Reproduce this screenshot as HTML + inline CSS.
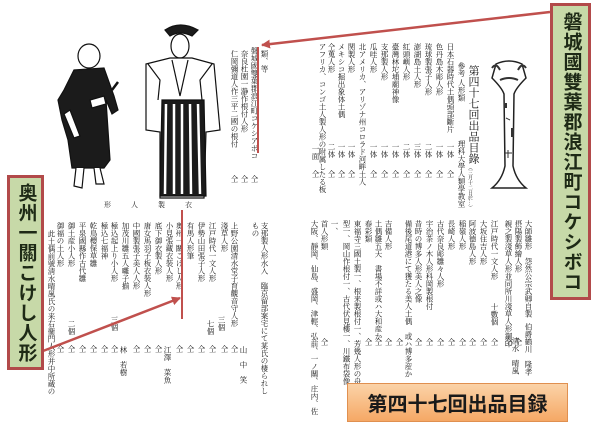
<!DOCTYPE html>
<html><head><meta charset="utf-8"><style>
html,body{margin:0;padding:0;background:#fff;}
#c{position:relative;width:600px;height:426px;overflow:hidden;background:#fff;font-family:"Liberation Serif","Noto Serif CJK SC",serif;color:#111;}
.k{position:absolute;writing-mode:vertical-rl;font-size:7.5px;line-height:8px;white-space:nowrap;}
.box{position:absolute;background:#c7d9a8;border:3px solid #b24a4a;box-sizing:border-box;writing-mode:vertical-rl;font-family:"Liberation Sans","Noto Sans CJK JP",sans-serif;font-weight:bold;color:#1e2a16;display:flex;align-items:center;justify-content:center;}
</style></head><body><div id="c">

<!-- figures -->
<svg style="position:absolute;left:0;top:0" width="300" height="213">
<g stroke="#111" stroke-width="1.2">
<ellipse cx="89" cy="56" rx="11" ry="12" fill="#fff"/>
<path d="M74 70 L104 68 L114 96 L118 110 L112 114 L106 100 L110 160 L104 168 L72 168 L68 140 L62 120 L58 100 L64 90 Z" fill="#1b1b1b"/>
<path d="M70 110 L80 136 L74 138 L64 114Z" fill="#fff"/>
<path d="M90 100 L104 96 L106 104 L92 108Z" fill="#fff"/>
<path d="M112 90 L118 82" stroke-width="2.5"/>
<path d="M76 168 L74 186 L82 188 L84 168 M94 168 L96 184 L104 184 L100 168" fill="#fff"/>
<path d="M165 30 Q180 20 198 30 L192 36 Q180 30 170 36Z" fill="#1b1b1b"/>
<ellipse cx="180" cy="46" rx="9" ry="12" fill="#fff"/>
<path d="M170 58 L192 58 L214 64 L220 130 L206 132 L204 198 L160 198 L160 132 L146 130 L146 64 Z" fill="#fff"/>
<path d="M162 100 L204 100 L206 196 L160 196Z" fill="#1b1b1b"/>
<path d="M166 104 l-1 90 M174 104 l0 90 M182 104 l0 90 M190 104 l1 90 M198 104 l2 90" stroke="#fff" stroke-width="2.5"/>
<path d="M148 64 L160 80 L158 100 M212 64 L200 80 L202 100" fill="none"/>
<path d="M172 60 L180 96 L188 60" fill="none"/>
</g></svg>
<div style="position:absolute;left:104px;top:200px;font-size:7px;letter-spacing:20px;color:#222;">形人製衣</div>

<!-- upper left block -->
<div class="k" style="left:260px;top:50px;">類、等</div>
<div class="k" style="left:250px;top:47px;">磐城國雙葉郡浪江町コケシアボコ</div>
<div class="k" style="left:240px;top:50px;">奈良杜園一瀞作根付人形</div>
<div class="k" style="left:230px;top:50px;">仁岡彌道人作三平二國の根付</div>
<div class="k" style="left:250px;top:175px;">仝</div><div class="k" style="left:240px;top:175px;">仝</div><div class="k" style="left:230px;top:175px;">仝</div>

<!-- upper right block -->
<div class="k" style="left:467px;top:65px;font-size:11px;line-height:12px;">第四十七回出品目錄</div>
<div class="k" style="left:466px;top:165px;font-size:5px;line-height:6px;">（三月十二日於…）</div>
<div class="k" style="left:457px;top:62px;">參考 人形類</div>
<div class="k" style="left:457px;top:140px;">理科大學人類學教室</div>
<div class="k" style="left:446px;top:43px;">日本石器時代土偶頭部斷片</div>
<div class="k" style="left:435px;top:43px;">色丹島木彫人形</div>
<div class="k" style="left:424px;top:43px;">琉球製張子人形</div>
<div class="k" style="left:413px;top:43px;">澎湖島土人形</div>
<div class="k" style="left:402px;top:43px;">紅頭嶼人形</div>
<div class="k" style="left:391px;top:43px;">臺灣林坨埔廟神像</div>
<div class="k" style="left:380px;top:43px;">支那製人形</div>
<div class="k" style="left:369px;top:43px;">瓜哇人形</div>
<div class="k" style="left:358px;top:43px;">北アメリカ、アリゾナ州コロラド河畔土人</div>
<div class="k" style="left:347px;top:43px;">関製人形</div>
<div class="k" style="left:337px;top:43px;">メキシコ掘出象体土偶</div>
<div class="k" style="left:327px;top:43px;">仝蒐人形</div>
<div class="k" style="left:318px;top:43px;">アフリカ、コンゴ土人製人形の附属したる板</div>
<div class="k" style="left:446px;top:143px;">一体</div><div class="k" style="left:435px;top:143px;">一体</div>
<div class="k" style="left:424px;top:143px;">二体</div><div class="k" style="left:413px;top:143px;">三体</div>
<div class="k" style="left:402px;top:143px;">二体</div><div class="k" style="left:391px;top:143px;">一体</div>
<div class="k" style="left:380px;top:143px;">一体</div><div class="k" style="left:369px;top:143px;">一体</div>
<div class="k" style="left:347px;top:143px;">一体</div><div class="k" style="left:337px;top:143px;">一体</div>
<div class="k" style="left:327px;top:143px;">二体</div><div class="k" style="left:311px;top:145px;">一面</div>
<div class="k" style="left:446px;top:170px;">仝</div><div class="k" style="left:435px;top:170px;">仝</div><div class="k" style="left:424px;top:170px;">仝</div><div class="k" style="left:413px;top:170px;">仝</div><div class="k" style="left:402px;top:170px;">仝</div><div class="k" style="left:391px;top:170px;">仝</div><div class="k" style="left:380px;top:170px;">仝</div><div class="k" style="left:369px;top:170px;">仝</div><div class="k" style="left:347px;top:170px;">仝</div><div class="k" style="left:337px;top:170px;">仝</div><div class="k" style="left:327px;top:170px;">仝</div><div class="k" style="left:311px;top:170px;">仝</div>

<!-- vase -->
<svg style="position:absolute;left:486px;top:58px" width="46" height="134">
<path d="M10 6 Q23 0 36 6 L40 20 Q30 30 28 36 L27 108 Q30 122 40 130 L6 130 Q16 122 19 108 L18 36 Q16 30 6 20 Z" fill="#fff" stroke="#222" stroke-width="1.5"/>
<path d="M6 10 Q10 4 14 12 M40 10 Q36 4 32 12 M14 22 Q23 18 32 22" stroke="#333" fill="none" stroke-width="2"/>
<rect x="25" y="70" width="3" height="9" fill="#333"/><rect x="19" y="45" width="2" height="5" fill="#333"/><path d="M20 60 l4 2 M18 95 l8 0 M22 92 l0 8" stroke="#333" fill="none"/>
</svg>

<!-- lower right block -->
<div class="k" style="left:524px;top:220px;">大師雛形　怨然公宗武卿自製</div>
<div class="k" style="left:524px;top:323px;">伯爵鶴川　隆孝</div>
<div class="k" style="left:514px;top:220px;">摂陽製飾繪人形</div>
<div class="k" style="left:504px;top:220px;">親之製淺草人形並同所川淺草人形鋼印</div>
<div class="k" style="left:511px;top:337px;">清水　晴風</div>
<div class="k" style="left:490px;top:220px;">江戸時代一文人形</div>
<div class="k" style="left:490px;top:303px;">十數個</div>
<div class="k" style="left:479px;top:220px;">大坂住吉人形</div>
<div class="k" style="left:468px;top:220px;">阿波德島人形</div>
<div class="k" style="left:458px;top:220px;">稲嶺人形</div>
<div class="k" style="left:447px;top:220px;">長崎人形</div>
<div class="k" style="left:436px;top:220px;">古代奈良彫雛々人形</div>
<div class="k" style="left:425px;top:220px;">宇治茶ノ木人形科岡製根付</div>
<div class="k" style="left:414px;top:220px;">昔時の博多人形美人之像</div>
<div class="k" style="left:404px;top:220px;">備後尾道港にて獲たる美人土偶　或ハ博多産か</div>
<div class="k" style="left:384px;top:220px;">吉備人形</div>
<div class="k" style="left:374px;top:220px;">土偶雛五天　書場不詳或ハ大和産か</div>
<div class="k" style="left:364px;top:220px;">春彩類</div>
<div class="k" style="left:353px;top:220px;">東福寺三國土製一、根来製根付一、芳幾人形の舟</div>
<div class="k" style="left:342px;top:220px;">型一、岡山作根付一、古代伏見樓一、川鐵布袋像</div>
<div class="k" style="left:330px;top:220px;">一、</div>
<div class="k" style="left:320px;top:220px;">首人形類</div>
<div class="k" style="left:310px;top:220px;">大阪、靜岡、仙島、盛岡、津輕、弘前、一ノ關、庄内、佐</div>
<div class="k" style="left:514px;top:338px;">仝</div><div class="k" style="left:504px;top:338px;">仝</div><div class="k" style="left:490px;top:338px;">仝</div><div class="k" style="left:479px;top:338px;">仝</div><div class="k" style="left:468px;top:338px;">仝</div><div class="k" style="left:458px;top:338px;">仝</div><div class="k" style="left:447px;top:338px;">仝</div><div class="k" style="left:436px;top:338px;">仝</div><div class="k" style="left:425px;top:338px;">仝</div><div class="k" style="left:414px;top:338px;">仝</div><div class="k" style="left:395px;top:338px;">仝</div><div class="k" style="left:384px;top:338px;">仝</div><div class="k" style="left:374px;top:338px;">仝</div><div class="k" style="left:364px;top:338px;">仝</div><div class="k" style="left:320px;top:338px;">仝</div>

<!-- lower left block -->
<div class="k" style="left:260px;top:222px;">支那製人形水入　臨京留部案宅にて某氏の棲られし</div>
<div class="k" style="left:251px;top:222px;">もの</div>
<div class="k" style="left:239px;top:346px;">山　中　笑</div>
<div class="k" style="left:230px;top:222px;">上野公園清水堂子育觀音守人形</div>
<div class="k" style="left:220px;top:222px;">淺草人形</div>
<div class="k" style="left:217px;top:316px;">三個</div>
<div class="k" style="left:208px;top:222px;">江戸時代一文人形</div>
<div class="k" style="left:206px;top:320px;">七個</div>
<div class="k" style="left:197px;top:222px;">伊勢山田張子人形</div>
<div class="k" style="left:186px;top:222px;">有馬人形筆</div>
<div class="k" style="left:175px;top:222px;">奥州一關こけし人形</div>
<div class="k" style="left:165px;top:222px;">小見張藏衣裝人形</div>
<div class="k" style="left:163px;top:346px;">江澤　菜魚</div>
<div class="k" style="left:154px;top:222px;">底下御衣製人形</div>
<div class="k" style="left:143px;top:222px;">唐女馬羽子板衣裝人形</div>
<div class="k" style="left:132px;top:222px;">中國製張子美人人形</div>
<div class="k" style="left:121px;top:222px;">加茂川雛五人囃子揃</div>
<div class="k" style="left:110px;top:222px;">極込起上り小人形</div>
<div class="k" style="left:110px;top:316px;">三個</div>
<div class="k" style="left:119px;top:346px;">林　若樹</div>
<div class="k" style="left:100px;top:222px;">極込七福神</div>
<div class="k" style="left:89px;top:222px;">乾鳥櫻保草雛</div>
<div class="k" style="left:78px;top:222px;">平泉國縣作古代雛</div>
<div class="k" style="left:67px;top:222px;">御土産小人形</div>
<div class="k" style="left:67px;top:320px;">二個</div>
<div class="k" style="left:56px;top:222px;">御福の土人形</div>
<div class="k" style="left:47px;top:230px;">此土偶前號淸水晴風氏の来右衞門人形并中所蔵の</div>
<div class="k" style="left:230px;top:345px;">仝</div><div class="k" style="left:220px;top:345px;">仝</div><div class="k" style="left:208px;top:345px;">仝</div><div class="k" style="left:197px;top:345px;">仝</div><div class="k" style="left:186px;top:345px;">仝</div><div class="k" style="left:175px;top:345px;">仝</div><div class="k" style="left:154px;top:345px;">仝</div><div class="k" style="left:143px;top:345px;">仝</div><div class="k" style="left:132px;top:345px;">仝</div><div class="k" style="left:110px;top:345px;">仝</div><div class="k" style="left:100px;top:345px;">仝</div><div class="k" style="left:89px;top:345px;">仝</div><div class="k" style="left:78px;top:345px;">仝</div><div class="k" style="left:67px;top:345px;">仝</div><div class="k" style="left:56px;top:345px;">仝</div>

<!-- red lines and arrows -->
<svg style="position:absolute;left:0;top:0" width="600" height="426">
<defs><marker id="a" markerWidth="9" markerHeight="9" refX="8" refY="4.5" orient="auto" markerUnits="userSpaceOnUse"><path d="M0 0 L9 4.5 L0 9Z" fill="#c0504d"/></marker></defs>
<line x1="258" y1="47" x2="258" y2="153" stroke="#c0504d" stroke-width="2"/>
<line x1="550" y1="12" x2="262" y2="45" stroke="#c0504d" stroke-width="2.5" marker-end="url(#a)"/>
<line x1="182" y1="210" x2="182" y2="319" stroke="#c0504d" stroke-width="2"/>
<line x1="43" y1="351" x2="180" y2="298" stroke="#c0504d" stroke-width="2.5" marker-end="url(#a)"/>
</svg>

<div class="box" style="left:550px;top:3px;width:41px;height:297px;font-size:19px;line-height:22px;letter-spacing:1px;">磐城國雙葉郡浪江町コケシボコ</div>
<div class="box" style="left:7px;top:175px;width:37px;height:195px;font-size:19px;line-height:22px;letter-spacing:1px;">奥州一關こけし人形</div>
<div style="position:absolute;left:347px;top:383px;width:221px;height:39px;background:linear-gradient(#fbd3a8,#f5a865);border:1px solid #e09050;box-sizing:border-box;font-family:'Liberation Sans','Noto Sans CJK JP',sans-serif;font-weight:bold;font-size:20px;color:#1a1a1a;display:flex;align-items:center;justify-content:center;">第四十七回出品目録</div>
</div></body></html>
